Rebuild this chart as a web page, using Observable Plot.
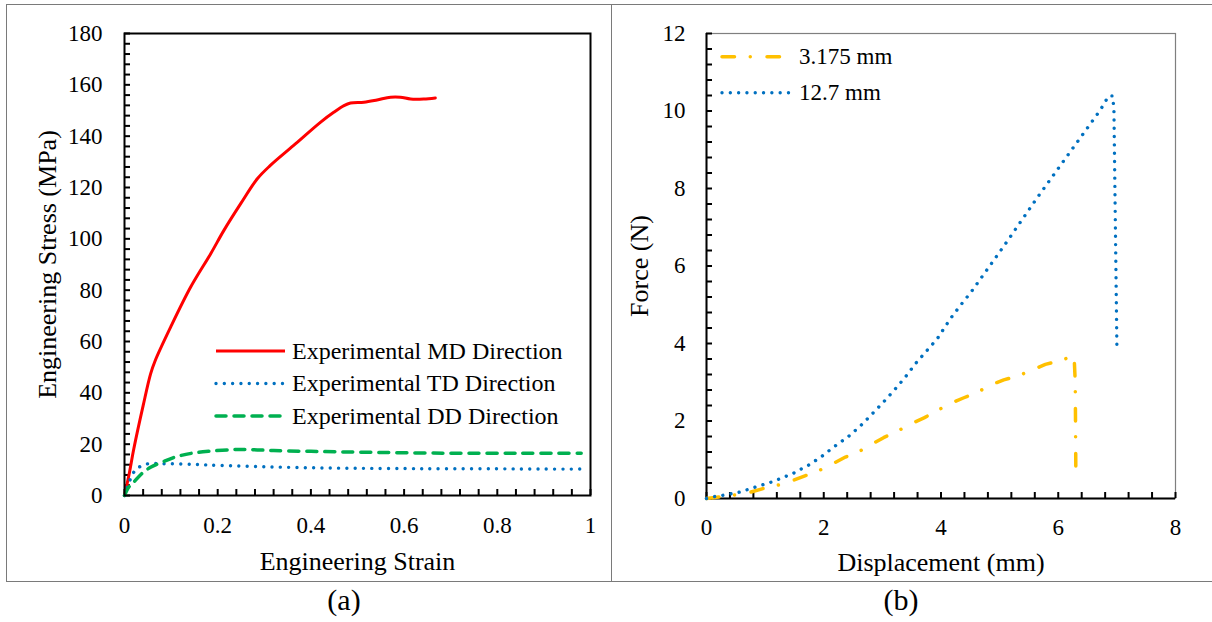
<!DOCTYPE html>
<html>
<head>
<meta charset="utf-8">
<script src="https://cdn.jsdelivr.net/npm/d3@7"></script>
<script src="https://cdn.jsdelivr.net/npm/@observablehq/plot@0.6"></script>
<style>
  html, body { margin: 0; padding: 0; background: #ffffff; }
  #page { position: relative; width: 1212px; height: 622px; overflow: hidden; background: #fff;
          font-family: "Liberation Serif", "Times New Roman", serif; }
  .abs { position: absolute; }
  .hline { position: absolute; height: 1px; background: #7a7a7a; }
  .vline { position: absolute; width: 1px; background: #7a7a7a; }
</style>
</head>
<body>
<div id="page"></div>
<script>
// ---------------- Panel (a): engineering stress-strain ----------------
const mdStrain = [0, 0.01, 0.02, 0.04, 0.056, 0.066, 0.099, 0.142, 0.185, 0.213, 0.249, 0.285, 0.313, 0.363, 0.421, 0.449, 0.471, 0.485, 0.514, 0.542, 0.571, 0.592, 0.614, 0.642, 0.667];
const mdStress = [0, 8.4, 18.2, 35.0, 47.4, 52.6, 65.6, 81.2, 94.2, 103.2, 113.6, 123.4, 128.6, 136.4, 145.5, 149.3, 151.9, 152.9, 153.2, 154.1, 155.2, 155.2, 154.5, 154.5, 154.9];

const tdStrain = [0, 0.006, 0.02, 0.031, 0.049, 0.084, 0.15, 0.206, 0.3, 0.4, 0.5, 0.6, 0.685, 0.8, 0.9, 0.99];
const tdStress = [0, 3.2, 9.1, 11.0, 12.3, 12.4, 12.1, 11.7, 11.2, 10.8, 10.6, 10.5, 10.4, 10.4, 10.3, 10.3];

const ddStrain = [0, 0.009, 0.02, 0.038, 0.056, 0.081, 0.113, 0.149, 0.185, 0.235, 0.27, 0.32, 0.4, 0.5, 0.685, 0.85, 0.98];
const ddStress = [0, 3.2, 5.2, 8.7, 11.0, 13.0, 15.2, 16.6, 17.3, 17.9, 17.9, 17.5, 17.2, 16.9, 16.5, 16.5, 16.5];

const seriesNamesA = ["Experimental MD Direction", "Experimental TD Direction", "Experimental DD Direction"];
const xTicksA = [0, 0.2, 0.4, 0.6, 0.8, 1];
const xTickLabelsA = ["0", "0.2", "0.4", "0.6", "0.8", "1"];
const yTicksA = [0, 20, 40, 60, 80, 100, 120, 140, 160, 180];
const yTickLabelsA = ["0", "20", "40", "60", "80", "100", "120", "140", "160", "180"];
const xTitleA = "Engineering Strain";
const yTitleA = "Engineering Stress (MPa)";
const captionA = "(a)";

// ---------------- Panel (b): force-displacement ----------------
const disp127 = [0, 0.14, 0.27, 0.41, 0.55, 0.68, 0.82, 0.95, 1.08, 1.22, 1.35, 1.48, 1.60, 1.73, 1.96, 2.19, 2.42, 2.63, 2.83, 3.02, 3.21, 3.39, 3.565, 3.75, 3.935, 4.16, 4.33, 4.51, 5.08, 5.65, 6.22, 6.72, 6.86, 6.93, 6.95, 7.0];
const force127 = [0, 0.05, 0.08, 0.12, 0.16, 0.22, 0.29, 0.35, 0.41, 0.49, 0.57, 0.65, 0.75, 0.85, 1.08, 1.35, 1.60, 1.88, 2.19, 2.49, 2.81, 3.13, 3.48, 3.80, 4.12, 4.64, 4.98, 5.32, 6.53, 7.78, 8.98, 10.03, 10.39, 10.39, 10.0, 3.96];

const disp3175 = [0, 0.44, 0.72, 0.95, 1.21, 1.46, 1.69, 1.92, 2.16, 2.37, 2.60, 2.83, 3.02, 3.26, 3.49, 3.71, 3.935, 4.17, 4.39, 4.62, 4.86, 5.07, 5.33, 5.56, 5.78, 6.04, 6.27, 6.29, 6.30];
const force3175 = [0, 0.08, 0.15, 0.25, 0.34, 0.46, 0.59, 0.72, 0.90, 1.07, 1.21, 1.41, 1.57, 1.74, 1.93, 2.08, 2.27, 2.46, 2.60, 2.74, 2.94, 3.06, 3.17, 3.32, 3.46, 3.56, 3.69, 3.0, 0.68];

const seriesNamesB = ["3.175 mm", "12.7 mm"];
const xTicksB = [0, 2, 4, 6, 8];
const xTickLabelsB = ["0", "2", "4", "6", "8"];
const yTicksB = [0, 2, 4, 6, 8, 10, 12];
const yTickLabelsB = ["0", "2", "4", "6", "8", "10", "12"];
const xTitleB = "Displacement (mm)";
const yTitleB = "Force (N)";
const captionB = "(b)";

// ---------------- styles ----------------
const RED = "#FF0000", BLUE = "#0070C0", GREEN = "#00B050", YELLOW = "#FFC000";
const FONT = '"Liberation Serif", "Times New Roman", serif';
const DOT = "0.01,8.3";
const DASH = "10,8";
const DASHDOT = "12.5,15.75,0.01,16.75";

const zip = (xs, ys) => xs.map((x, i) => ({x, y: ys[i]}));
const page = document.getElementById("page");

// ---------- Plot (a) ----------
const A = {w: 611, h: 581, top: 33, right: 21, bottom: 86, left: 124};
const aPW = A.w - A.left - A.right, aPH = A.h - A.top - A.bottom;
const xMinorA = d3.range(0, 1.0001, 0.04);
const yMinorA = d3.range(0, 180.001, 4);

const plotA = Plot.plot({
  width: A.w, height: A.h,
  marginTop: A.top, marginRight: A.right, marginBottom: A.bottom, marginLeft: A.left,
  x: {domain: [0, 1]},
  y: {domain: [0, 180]},
  style: {fontFamily: FONT, fontSize: "23px", color: "#000", background: "transparent", overflow: "visible"},
  marks: [
    Plot.ruleX(xMinorA, {x: d => d, insetTop: aPH - 6, stroke: "#000", strokeWidth: 2}),
    Plot.ruleY(yMinorA, {y: d => d, insetRight: aPW - 6, stroke: "#000", strokeWidth: 2}),
    Plot.line(zip(mdStrain, mdStress), {x: "x", y: "y", stroke: RED, strokeWidth: 3, curve: "catmull-rom"}),
    Plot.line(zip(tdStrain, tdStress), {x: "x", y: "y", stroke: BLUE, strokeWidth: 3.4, strokeDasharray: DOT, strokeLinecap: "round", curve: "catmull-rom"}),
    Plot.line(zip(ddStrain, ddStress), {x: "x", y: "y", stroke: GREEN, strokeWidth: 3.5, strokeDasharray: DASH, strokeLinecap: "round", curve: "catmull-rom"}),
    Plot.frame({stroke: "#000", strokeWidth: 2}),
    Plot.axisX({ticks: xTicksA, tickSize: 0, tickPadding: 21, tickFormat: (d) => xTickLabelsA[xTicksA.indexOf(d)], label: null, fontSize: 23}),
    Plot.axisY({ticks: yTicksA, tickSize: 0, tickPadding: 22, tickFormat: (d) => yTickLabelsA[yTicksA.indexOf(d)], label: null, fontSize: 23}),
    Plot.text([xTitleA], {frameAnchor: "bottom", lineAnchor: "bottom", dy: 74, fontSize: 26, fill: "#000"}),
    Plot.text([yTitleA], {frameAnchor: "left", textAnchor: "middle", lineAnchor: "bottom", rotate: -90, dx: 55.5 - A.left, fontSize: 26, fill: "#000"})
  ]
});
plotA.classList.add("abs");
plotA.style.left = "0px"; plotA.style.top = "0px";
page.appendChild(plotA);

// ---------- Plot (b) ----------
const B = {x0: 611, w: 601, h: 581, top: 33, right: 37, bottom: 83, left: 95};
const bPW = B.w - B.left - B.right, bPH = B.h - B.top - B.bottom;
const xMinorB = d3.range(0, 8.0001, 0.4);
const yMinorB = d3.range(0, 12.0001, 0.4);

const plotB = Plot.plot({
  width: B.w, height: B.h,
  marginTop: B.top, marginRight: B.right, marginBottom: B.bottom, marginLeft: B.left,
  x: {domain: [0, 8]},
  y: {domain: [0, 12]},
  style: {fontFamily: FONT, fontSize: "23px", color: "#000", background: "transparent", overflow: "visible"},
  marks: [
    Plot.frame({stroke: "#7f7f7f", strokeWidth: 1.2}),
    Plot.ruleX(xMinorB, {x: d => d, insetTop: bPH - 6, stroke: "#000", strokeWidth: 2}),
    Plot.ruleY(yMinorB, {y: d => d, insetRight: bPW - 6, stroke: "#000", strokeWidth: 2}),
    Plot.ruleX([0], {stroke: "#000", strokeWidth: 2}),
    Plot.ruleY([0], {stroke: "#000", strokeWidth: 2}),
    Plot.line(zip(disp3175, force3175), {x: "x", y: "y", stroke: YELLOW, strokeWidth: 3.5, strokeDasharray: DASHDOT, strokeLinecap: "round"}),
    Plot.line(zip(disp127, force127), {x: "x", y: "y", stroke: BLUE, strokeWidth: 3.4, strokeDasharray: DOT, strokeLinecap: "round"}),
    Plot.axisX({ticks: xTicksB, tickSize: 0, tickPadding: 20, tickFormat: (d) => xTickLabelsB[xTicksB.indexOf(d)], label: null, fontSize: 23}),
    Plot.axisY({ticks: yTicksB, tickSize: 0, tickPadding: 21, tickFormat: (d) => yTickLabelsB[yTicksB.indexOf(d)], label: null, fontSize: 23}),
    Plot.text([xTitleB], {frameAnchor: "bottom", lineAnchor: "bottom", dy: 72, fontSize: 26, fill: "#000"}),
    Plot.text([yTitleB], {frameAnchor: "left", textAnchor: "middle", lineAnchor: "bottom", rotate: -90, dx: 647.7 - (B.x0 + B.left), fontSize: 26, fill: "#000"})
  ]
});
plotB.classList.add("abs");
plotB.style.left = B.x0 + "px"; plotB.style.top = "0px";
page.appendChild(plotB);

// ---------- Table borders ----------
function addLine(cls, l, t, w, h) {
  const d = document.createElement("div");
  d.className = cls;
  d.style.left = l + "px"; d.style.top = t + "px";
  if (w != null) d.style.width = w + "px";
  if (h != null) d.style.height = h + "px";
  page.appendChild(d);
}
addLine("hline", 6, 4, 1206, null);
addLine("hline", 6, 581, 1206, null);
addLine("vline", 6, 4, null, 578);
addLine("vline", 611, 4, null, 578);

// ---------- Legends and captions (overlay) ----------
const ns = "http://www.w3.org/2000/svg";
const ov = document.createElementNS(ns, "svg");
ov.setAttribute("width", 1212); ov.setAttribute("height", 622);
ov.setAttribute("class", "abs");
ov.style.left = "0px"; ov.style.top = "0px"; ov.style.pointerEvents = "none";
page.appendChild(ov);

function el(tag, attrs, text) {
  const e = document.createElementNS(ns, tag);
  for (const k in attrs) e.setAttribute(k, attrs[k]);
  if (text != null) e.textContent = text;
  ov.appendChild(e);
  return e;
}

const legendA = [
  {name: seriesNamesA[0], color: RED, width: 3, dash: null, y: 351},
  {name: seriesNamesA[1], color: BLUE, width: 3.4, dash: DOT, y: 383.5},
  {name: seriesNamesA[2], color: GREEN, width: 3.5, dash: DASH, y: 416}
];
legendA.forEach(it => {
  const a = {x1: 216, x2: 285, y1: it.y, y2: it.y, stroke: it.color, "stroke-width": it.width, "stroke-linecap": it.dash ? "round" : "butt"};
  if (it.dash) a["stroke-dasharray"] = it.dash;
  el("line", a);
  el("text", {x: 292, y: it.y, dy: "0.32em", "font-family": FONT, "font-size": 24, fill: "#000"}, it.name);
});

const legendB = [
  {name: seriesNamesB[0], color: YELLOW, width: 3.5, dash: DASHDOT, y: 56.7, x2: 782},
  {name: seriesNamesB[1], color: BLUE, width: 3.4, dash: DOT, y: 92.7, x2: 792}
];
legendB.forEach(it => {
  el("line", {x1: 722, x2: it.x2, y1: it.y, y2: it.y, stroke: it.color, "stroke-width": it.width, "stroke-linecap": "round", "stroke-dasharray": it.dash});
  el("text", {x: 799, y: it.y, dy: "0.32em", "font-family": FONT, "font-size": 23, fill: "#000"}, it.name);
});

el("text", {x: 344, y: 610, "text-anchor": "middle", "font-family": FONT, "font-size": 30, fill: "#000"}, captionA);
el("text", {x: 901, y: 610, "text-anchor": "middle", "font-family": FONT, "font-size": 30, fill: "#000"}, captionB);
</script>
</body>
</html>
